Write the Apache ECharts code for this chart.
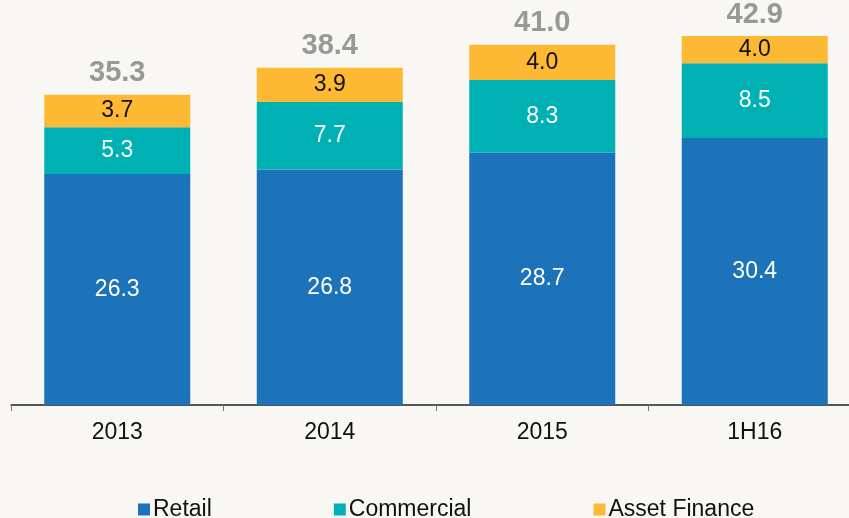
<!DOCTYPE html>
<html>
<head>
<meta charset="utf-8">
<script src="https://cdn.jsdelivr.net/npm/echarts@6/dist/echarts.min.js"></script>
<style>
  html, body { margin: 0; padding: 0; background: #f8f7f4; overflow: hidden; }
  #chart { width: 861px; height: 518px; }
</style>
</head>
<body>
<div id="chart"></div>
<script>
const categories = ["2013", "2014", "2015", "1H16"];
const retail = [26.3, 26.8, 28.7, 30.4];
const commercial = [5.3, 7.7, 8.3, 8.5];
const assetFinance = [3.7, 3.9, 4.0, 4.0];
const totals = [35.3, 38.4, 41.0, 42.9];

const Y_MAX = 42;
const FONT = "Liberation Sans, Arial, sans-serif";

const COLOR = {
  retail: "#1c73ba",
  commercial: "#00b1b3",
  asset: "#fdb934",
};

// the plot runs a little past the right edge of the window, like the source slide
const chart = echarts.init(document.getElementById("chart"));

const insideLabel = (color) => ({
  show: true,
  position: "inside",
  color,
  fontSize: 23,
  fontFamily: FONT,
  formatter: (p) => p.value.toFixed(1),
});

chart.setOption({
  backgroundColor: "#f8f7f4",
  animation: false,
  grid: { left: 11, top: 36, right: 0, bottom: 113, containLabel: false },
  legend: {
    left: 133,
    top: 493,
    itemWidth: 12,
    itemHeight: 12,
    itemGap: 122,
    icon: "rect",
    textStyle: { fontSize: 23, color: "#111", fontFamily: FONT, padding: [0, 0, 0, -2] },
    data: ["Retail", "Commercial", "Asset Finance"],
  },
  xAxis: {
    type: "category",
    data: categories,
    axisLine: { lineStyle: { color: "#222", width: 1.5 } },
    axisTick: { show: true, length: 6, lineStyle: { color: "#777" } },
    axisLabel: { fontSize: 23, color: "#111", margin: 16, fontFamily: FONT },
  },
  yAxis: {
    type: "value",
    min: 0,
    max: Y_MAX,
    show: false,
    splitLine: { show: false },
  },
  series: [
    {
      name: "Retail", type: "bar", stack: "t", barWidth: 146,
      itemStyle: { color: COLOR.retail },
      label: insideLabel("#fff"),
      data: retail,
    },
    {
      name: "Commercial", type: "bar", stack: "t",
      itemStyle: { color: COLOR.commercial },
      label: insideLabel("#fff"),
      data: commercial,
    },
    {
      name: "Asset Finance", type: "bar", stack: "t",
      itemStyle: { color: COLOR.asset },
      label: insideLabel("#111"),
      data: assetFinance,
    },
    {
      name: "Total", type: "scatter",
      symbolSize: 0,
      silent: true,
      label: {
        show: true,
        position: "top",
        distance: 7,
        color: "#7f7f7f",
        fontSize: 29,
        fontWeight: "bold",
        fontFamily: FONT,
        formatter: (p) => totals[p.dataIndex].toFixed(1),
      },
      data: totals.map(v => Math.min(v, Y_MAX)),
    },
  ],
});
</script>
</body>
</html>
